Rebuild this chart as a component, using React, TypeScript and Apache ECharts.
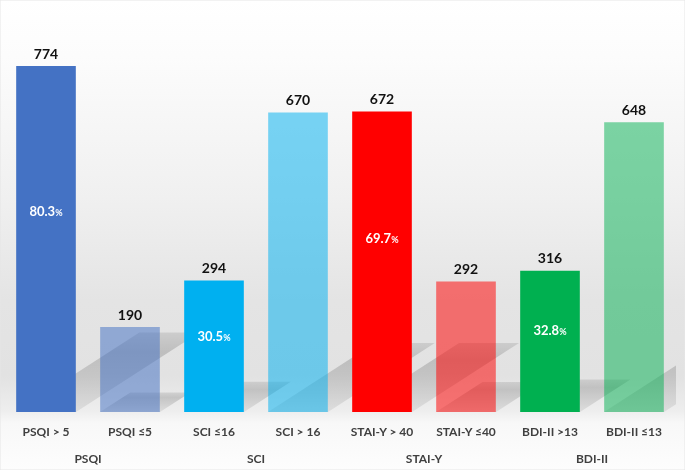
import React, { useEffect, useRef } from "react";
import * as echarts from "echarts";

const subCategories = [
  "PSQI > 5",
  "PSQI ≤5",
  "SCI ≤16",
  "SCI > 16",
  "STAI-Y > 40",
  "STAI-Y ≤40",
  "BDI-II >13",
  "BDI-II ≤13",
];
const groupCategories = ["PSQI", "SCI", "STAI-Y", "BDI-II"];
const counts = [774, 190, 294, 670, 672, 292, 316, 648];
const percentLabels = ["80.3", "", "30.5", "", "69.7", "", "32.8", ""];

const barColors = [
  "#4472C4",
  "rgba(68,114,196,0.52)",
  "#00B0F0",
  "rgba(0,176,240,0.52)",
  "#FF0000",
  "rgba(255,0,0,0.52)",
  "#00B050",
  "rgba(0,176,80,0.5)",
];

const FONT = "Lato, 'Open Sans', sans-serif";

export default function App() {
  const ref = useRef<HTMLDivElement>(null);

  useEffect(() => {
    if (!ref.current) return;
    const chart = echarts.init(ref.current, undefined, { renderer: "svg" });
    const W = 685;
    const H = 470;

    const option: any = {
      animation: false,
      textStyle: { fontFamily: FONT },
      graphic: [
        {
          type: "rect",
          z: -100,
          silent: true,
          shape: { x: 0, y: 0, width: W, height: H },
          style: {
            fill: new echarts.graphic.LinearGradient(0, 0, 0, 1, [
              { offset: 0, color: "#ffffff" },
              { offset: 0.12, color: "#fcfcfc" },
              { offset: 0.42, color: "#f0f0f0" },
              { offset: 0.64, color: "#e4e4e4" },
              { offset: 0.8, color: "#e2e2e2" },
              { offset: 0.875, color: "#eeeeee" },
              { offset: 0.9, color: "#f8f8f8" },
              { offset: 1, color: "#fdfdfd" },
            ]),
            stroke: "#e6e6e6",
            lineWidth: 1,
          },
        },
      ],
      grid: { left: 4, right: 9, top: 66, bottom: 58, containLabel: false },
      xAxis: [
        {
          type: "category",
          data: subCategories,
          axisLine: { show: false },
          axisTick: { show: false },
          axisLabel: {
            margin: 13,
            fontSize: 12,
            fontWeight: "bold",
            color: "#404040",
            fontFamily: FONT,
            interval: 0,
          },
        },
        {
          type: "category",
          data: groupCategories,
          position: "bottom",
          axisLine: { show: false },
          axisTick: { show: false },
          axisLabel: {
            margin: 40,
            fontSize: 12,
            fontWeight: "bold",
            color: "#404040",
            fontFamily: FONT,
            interval: 0,
          },
        },
      ],
      yAxis: {
        type: "value",
        min: 0,
        max: 774,
        show: false,
        splitLine: { show: false },
      },
      series: [
        {
          type: "custom",
          z: 1,
          silent: true,
          clip: true,
          xAxisIndex: 0,
          data: counts.map((v, i) => [i, v]),
          renderItem: (params: any, api: any) => {
            const i = api.value(0);
            const v = api.value(1);
            const base = api.coord([i, 0]);
            const top = api.coord([i, v]);
            const barPx = base[1] - top[1];
            const half = api.size([1, 0])[0] * 0.357;
            const dy = barPx * 0.23;
            const dx = dy * 1.55;
            const cx = base[0];
            const by = base[1];
            return {
              type: "polygon",
              shape: {
                points: [
                  [cx - half, by],
                  [cx + half, by],
                  [cx + half + dx, by - dy],
                  [cx - half + dx, by - dy],
                ],
              },
              style: {
                fill: new echarts.graphic.LinearGradient(0, 0, 0, 1, [
                  { offset: 0, color: "rgba(0,0,0,0.10)" },
                  { offset: 0.25, color: "rgba(0,0,0,0.16)" },
                  { offset: 1, color: "rgba(0,0,0,0.07)" },
                ]),
              },
            };
          },
        },
        {
          type: "bar",
          z: 3,
          xAxisIndex: 0,
          barWidth: "71%",
          data: counts.map((v, i) => ({
            value: v,
            itemStyle: { color: barColors[i] },
          })),
          label: {
            show: true,
            position: "top",
            distance: 6,
            fontSize: 14,
            fontWeight: "bold",
            color: "#111111",
            fontFamily: FONT,
          },
        },
        {
          type: "bar",
          z: 4,
          xAxisIndex: 0,
          barWidth: "71%",
          barGap: "-100%",
          silent: true,
          itemStyle: { color: "rgba(0,0,0,0)" },
          data: counts.map((v, i) => (percentLabels[i] ? v : "-")),
          label: {
            show: true,
            position: ["50%", "42%"],
            align: "center",
            verticalAlign: "middle",
            formatter: (p: any) => `{a|${percentLabels[p.dataIndex]}}{b|%}`,
            rich: {
              a: {
                fontSize: 13,
                fontWeight: "bold",
                color: "#ffffff",
                fontFamily: FONT,
              },
              b: {
                fontSize: 9,
                fontWeight: "bold",
                color: "#ffffff",
                fontFamily: FONT,
                padding: [3, 0, 0, 0],
              },
            },
          },
        },
      ],
    };

    chart.setOption(option);
    return () => chart.dispose();
  }, []);

  return (
    <div
      ref={ref}
      style={{ position: "fixed", left: 0, top: 0, width: 685, height: 470 }}
    />
  );
}
